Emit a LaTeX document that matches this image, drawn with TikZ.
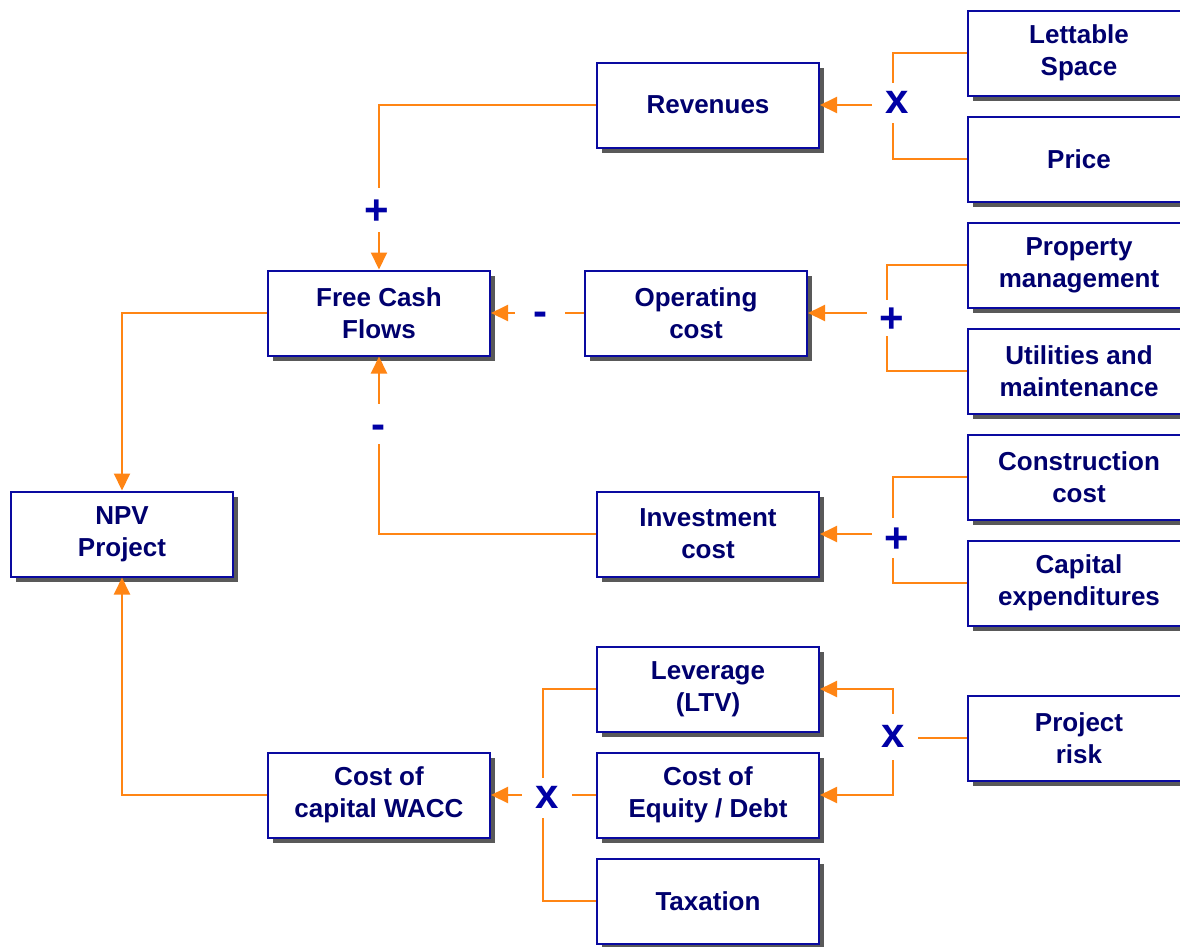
\documentclass[tikz,border=0pt]{standalone}
\usepackage{fontspec}
\setmainfont{Liberation Sans}
\usetikzlibrary{arrows.meta,shadows}
\definecolor{wireorange}{RGB}{255,133,20}
\definecolor{boxnavy}{RGB}{10,10,160}
\definecolor{textnavy}{RGB}{0,0,110}
\definecolor{opblue}{RGB}{0,0,165}
\tikzset{
  box/.style={draw=boxnavy, line width=2pt, fill=white,
    minimum width=222pt, minimum height=85pt, inner sep=2pt,
    align=center, text=textnavy,
    font=\bfseries\fontsize{26}{32}\selectfont,
    drop shadow={shadow xshift=5pt, shadow yshift=-5pt, fill=black!65, opacity=1}},
  % operator signs; the text box is set so the glyph sits at the node centre
  op/.style={text=opblue, font=\bfseries\fontsize{42}{42}\selectfont,
    text depth=0pt, minimum width=50pt, minimum height=40pt, inner sep=0pt},
  times/.style={op, text height=21.8pt},
  plus/.style={op, text height=29.4pt},
  minus/.style={op, text height=28pt},
  wire/.style={draw=wireorange, line width=2pt},
  arr/.style={wire, -{Triangle[length=17pt,width=16pt]}}
}
\begin{document}
\begin{tikzpicture}[x=1pt,y=-1pt]
\clip (0,0) rectangle (1180,946);
\fill[white] (0,0) rectangle (1180,946);

% boxes
\node[box] (rev)   at (708,105) {Revenues};
\node[box] (let)   at (1079,53) {Lettable\\Space};
\node[box] (price) at (1079,159) {Price};
\node[box] (fcf)   at (379,313) {Free Cash\\Flows};
\node[box] (opc)   at (696,313) {Operating\\cost};
\node[box] (prop)  at (1079,265) {Property\\management};
\node[box] (util)  at (1079,371) {Utilities and\\maintenance};
\node[box] (cons)  at (1079,477) {Construction\\cost};
\node[box] (capex) at (1079,583) {Capital\\expenditures};
\node[box] (npv)   at (122,534) {NPV\\Project};
\node[box] (inv)   at (708,534) {Investment\\cost};
\node[box] (lev)   at (708,689) {Leverage\\(LTV)};
\node[box] (coe)   at (708,795) {Cost of\\Equity / Debt};
\node[box] (risk)  at (1079,738) {Project\\risk};
\node[box] (wacc)  at (379,795) {Cost of\\capital WACC};
\node[box] (tax)   at (708,901) {Taxation};

% operators
\node[times] (xrev)  at (897,103) {x};
\node[plus, minimum height=44pt] (prev) at (377,210) {+};
\node[minus] (mopc)  at (540,311) {-};
\node[plus, minimum height=36pt] (popc) at (892,318) {+};
\node[minus] (minv)  at (378,424) {-};
\node[plus] (pinv)   at (897,538) {+};
\node[times] (xwacc) at (547,798) {x};
\node[times, minimum height=46pt] (xrisk) at (893,737) {x};

% revenues branch
\draw[wire] (let.west) -| ([xshift=-4pt]xrev.north);
\draw[wire] (price.west) -| ([xshift=-4pt]xrev.south);
\draw[arr] (rev.east -| xrev.west) -- (rev.east);
\draw[wire] (rev.west) -| (fcf.north |- prev.north);
\draw[arr] (fcf.north |- prev.south) -- (fcf.north);

% operating cost branch
\draw[wire] (prop.west) -| ([xshift=-5pt]popc.north);
\draw[wire] (util.west) -| ([xshift=-5pt]popc.south);
\draw[arr] (opc.east -| popc.west) -- (opc.east);
\draw[wire] (opc.west) -- (mopc.east |- opc.west);
\draw[arr] (fcf.east -| mopc.west) -- (fcf.east);

% investment branch
\draw[wire] (cons.west) -| ([xshift=-4pt]pinv.north);
\draw[wire] (capex.west) -| ([xshift=-4pt]pinv.south);
\draw[arr] (inv.east -| pinv.west) -- (inv.east);
\draw[wire] (inv.west) -| (fcf.south |- minv.south);
\draw[arr] (fcf.south |- minv.north) -- (fcf.south);

% NPV inputs
\draw[arr] (fcf.west) -| (npv.north);
\draw[arr] (wacc.west) -| (npv.south);

% cost of capital branch
\draw[wire] (risk.west) -- (xrisk.east |- risk.west);
\draw[arr] (xrisk.north) |- (lev.east);
\draw[arr] (xrisk.south) |- (coe.east);
\draw[wire] (lev.west) -| ([xshift=-4pt]xwacc.north);
\draw[wire] (tax.west) -| ([xshift=-4pt]xwacc.south);
\draw[wire] (coe.west) -- (xwacc.east |- coe.west);
\draw[arr] (wacc.east -| xwacc.west) -- (wacc.east);
\end{tikzpicture}
\end{document}
